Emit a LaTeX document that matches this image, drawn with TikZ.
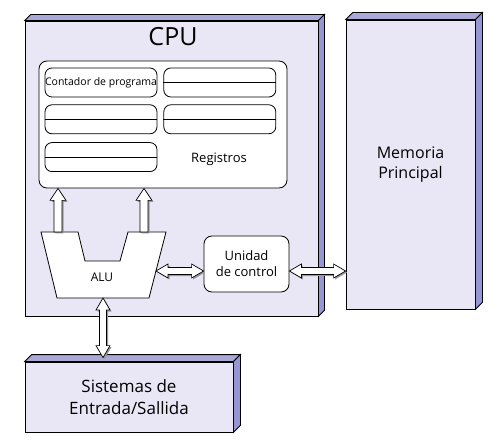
\documentclass[tikz,border=0pt]{standalone}
\usepackage{fontspec}
\setmainfont{Open Sans}
\usetikzlibrary{positioning,calc,shadows}

\definecolor{boxfront}{RGB}{233,231,245}
\definecolor{boxside}{RGB}{150,150,210}
\definecolor{boxtop}{RGB}{170,168,212}

% single block arrow from #1 to #2
\newcommand{\blockarrow}[2]{%
  \draw[arrowstyle]
    ($(#1)!4pt!90:(#2)$) -- ($($(#2)!12pt!(#1)$)!4pt!-90:(#1)$)
    -- ($($(#2)!12pt!(#1)$)!8pt!-90:(#1)$) -- (#2)
    -- ($($(#2)!12pt!(#1)$)!8pt!90:(#1)$)
    -- ($($(#2)!12pt!(#1)$)!4pt!90:(#1)$) -- ($(#1)!4pt!-90:(#2)$) -- cycle;}
% double-headed block arrow between #1 and #2
\newcommand{\biarrow}[2]{%
  \draw[arrowstyle]
    (#1) -- ($($(#1)!12pt!(#2)$)!7pt!90:(#2)$)
    -- ($($(#1)!12pt!(#2)$)!3.5pt!90:(#2)$)
    -- ($($(#2)!12pt!(#1)$)!3.5pt!-90:(#1)$)
    -- ($($(#2)!12pt!(#1)$)!7pt!-90:(#1)$) -- (#2)
    -- ($($(#2)!12pt!(#1)$)!7pt!90:(#1)$)
    -- ($($(#2)!12pt!(#1)$)!3.5pt!90:(#1)$)
    -- ($($(#1)!12pt!(#2)$)!3.5pt!-90:(#2)$)
    -- ($($(#1)!12pt!(#2)$)!7pt!-90:(#2)$) -- cycle;}

\begin{document}
\begin{tikzpicture}[
x=1pt,y=1pt,
every node/.style={inner sep=0pt,align=center},
boxstyle/.style={draw,line width=0.8pt,fill=boxfront},
sidestyle/.style={draw,line width=0.8pt,fill=boxside},
topstyle/.style={draw,line width=0.8pt,fill=boxtop},
regsstyle/.style={draw,line width=0.8pt,fill=white,rounded corners=8pt},
regstyle/.style={draw,line width=0.8pt,fill=white,rounded corners=7pt,
  minimum width=112pt,minimum height=29pt},
alustyle/.style={draw,line width=0.8pt,fill=white},
arrowstyle/.style={line width=0.7pt,draw,fill=white,
  drop shadow={shadow xshift=1.5pt,shadow yshift=-1.5pt,fill=gray!80,opacity=1}}
]
\useasboundingbox (0,0) rectangle (500,442);

% big boxes
\node[boxstyle,minimum width=293pt,minimum height=295pt] (cpu) at (171.5,273.5) {};
\node[boxstyle,minimum width=129pt,minimum height=289pt,
  font=\fontsize{16}{20}\selectfont] (mem) at (410.5,277.5) {Memoria\\Principal};
\node[boxstyle,minimum width=208pt,minimum height=70pt,
  font=\fontsize{17}{22}\selectfont] (io) at (129,45) {Sistemas de\\Entrada/Sallida};
\foreach \b/\d in {cpu/6,mem/7,io/7} {
  \draw[topstyle] (\b.north west) -- ($(\b.north west)+(\d,\d)$)
    -- ($(\b.north east)+(\d,\d)$) -- (\b.north east) -- cycle;
  \draw[sidestyle] (\b.north east) -- ($(\b.north east)+(\d,\d)$)
    -- ($(\b.south east)+(\d,\d)$) -- (\b.south east) -- cycle;
}
\node[font=\fontsize{25}{28}\selectfont] (cpulabel) at (173,405) {CPU};

% registers
\node[regsstyle,minimum width=248pt,minimum height=127pt] (regs) at (163,317.5) {};
\node[regstyle,font=\fontsize{10.5}{12}\selectfont] (r1) at (101,359.5) {Contador de programa};
\node[regstyle] (r2) [right=6pt of r1] {};
\node[regstyle] (r3) [below=7pt of r1] {};
\node[regstyle] (r4) [right=6pt of r3] {};
\node[regstyle] (r5) [below=8pt of r3] {};
\foreach \r in {r2,r3,r4,r5}
  \draw[line width=0.8pt] (\r.west) -- (\r.east);
\node[font=\fontsize{13}{16}\selectfont] (regslabel) at (219,283) {Registros};

% ALU and control unit
\draw[alustyle] (41,210) -- (78,210) -- (85,181) -- (120,181) -- (128,210)
  -- (166,210) -- (149,144) -- (57,144) -- cycle;
\node[font=\fontsize{12}{14}\selectfont] (alu) at (102,165) {ALU};
\node[regsstyle,minimum width=85pt,minimum height=56pt,
  font=\fontsize{13}{16}\selectfont] (cu) at (246.5,178) {Unidad\\de control};

\coordinate (alu-tl) at (58,210);
\coordinate (alu-tr) at (144,210);
\coordinate (alu-e) at (156,171);
\coordinate (alu-s) at (103,144);
\coordinate (regs-l) at (regs.south -| alu-tl);
\coordinate (regs-r) at (regs.south -| alu-tr);
\coordinate (cu-w) at (cu.west |- alu-e);
\coordinate (cu-e) at (cu.east |- alu-e);
\coordinate (mem-w) at (mem.west |- alu-e);
\coordinate (io-n) at ($(io.north -| alu-s)+(0,4)$);

% buses
\blockarrow{alu-tl}{regs-l}
\blockarrow{alu-tr}{regs-r}
\biarrow{alu-e}{cu-w}
\biarrow{cu-e}{mem-w}
\biarrow{alu-s}{io-n}
\end{tikzpicture}
\end{document}
